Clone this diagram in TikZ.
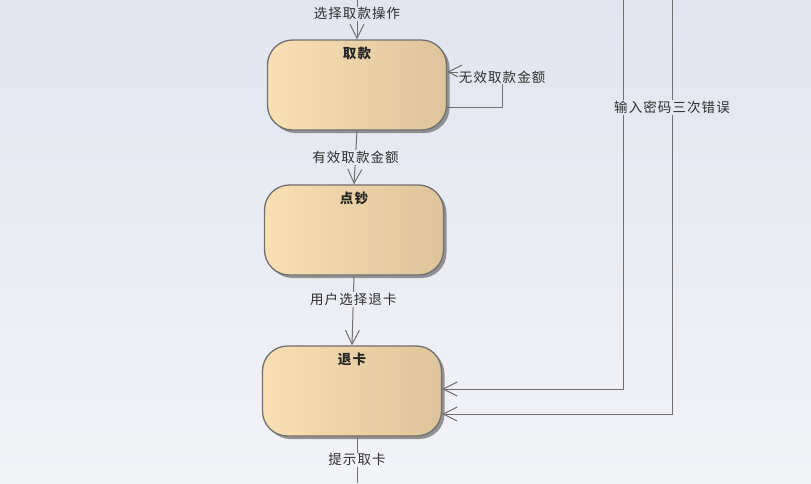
\documentclass[tikz,border=0pt]{standalone}
\usepackage{fontspec}
\setmainfont{Noto Sans CJK SC}
\newfontfamily\lblfont[LetterSpace=8]{Noto Sans CJK SC}
\usetikzlibrary{arrows.meta, positioning, shadows, calc}
\definecolor{bgTop}{RGB}{226,229,239}
\definecolor{bgBot}{RGB}{242,243,247}
\definecolor{stateL}{RGB}{249,223,180}
\definecolor{stateR}{RGB}{222,196,154}
\definecolor{edgeGray}{RGB}{112,112,112}

\begin{document}
\begin{tikzpicture}[x=1pt, y=-1pt,
  state/.style={rectangle, rounded corners=25pt, draw=edgeGray, line width=1.3pt,
    left color=stateL, right color=stateR, minimum width=179pt, minimum height=90pt,
    drop shadow={shadow xshift=3pt, shadow yshift=-3pt, fill=black!55, opacity=0.75}},
  title/.style={font=\lblfont\bfseries\fontsize{13.5}{15}\selectfont, text=black!85},
  lbl/.style={font=\lblfont\fontsize{13.5}{15}\selectfont, text=black!82, inner sep=1pt},
  flow/.style={draw=edgeGray, line width=1pt},
  trans/.style={flow, -{Straight Barb[length=14pt, width=14pt]}}
]
  \fill[top color=bgTop, bottom color=bgBot] (0,0) rectangle (811,483);
  \useasboundingbox (0,0) rectangle (811,483);

  % Stati
  \node[state, label={[title, anchor=north, yshift=-4pt]north:取款}] (qukuan) at (357,85) {};
  \node[state, label={[title, anchor=north, yshift=-4pt]north:点钞}] (dianchao) at (354,230) {};
  \node[state, label={[title, anchor=north, yshift=-4pt]north:退卡}] (tuika) at (352,391) {};

  \coordinate (entry) at (357,0);
  \coordinate (exit) at (357,483);
  \coordinate (errA) at (623,0);
  \coordinate (errB) at (672,0);

  % Transizioni
  \draw[trans] (entry) -- node[lbl, pos=0.35, fill=bgTop!97!bgBot] {选择取款操作} (qukuan.north);
  \draw[trans] ($(qukuan.east)+(0,22)$) -- ++(55,0)
    |- node[lbl, pos=0.43, fill=bgTop!84!bgBot] {无效取款金额} ($(qukuan.east)+(0,-13)$);
  \draw[trans] (qukuan.south) -- node[lbl, fill=bgTop!67!bgBot] {有效取款金额} (dianchao.north);
  \draw[trans] (dianchao.south) -- node[lbl, pos=0.34, fill=bgTop!38!bgBot] {用户选择退卡} (tuika.north);
  \draw[flow] (tuika.south -| exit) -- node[lbl, fill=bgTop!5!bgBot] {提示取卡} (exit);
  % Errore password
  \draw[trans] (errA) |- ($(tuika.east)+(0,-2)$);
  \draw[trans] (errB) |- node[lbl, pos=0.13, fill=bgTop!77!bgBot] {输入密码三次错误} ($(tuika.east)+(0,23)$);
\end{tikzpicture}
\end{document}
